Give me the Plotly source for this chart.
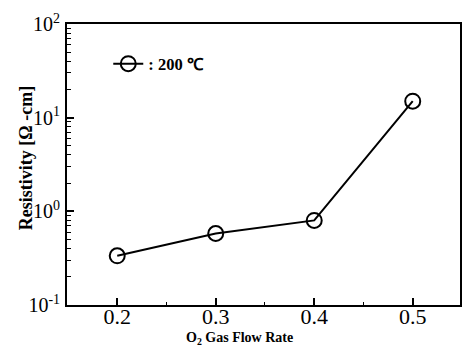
import plotly.graph_objects as go

flow_rate = [0.2, 0.3, 0.4, 0.5]
resistivity = [0.335, 0.58, 0.80, 15.0]
series_name = ": 200 ℃"

x_tickvals = [0.2, 0.3, 0.4, 0.5]
x_ticktext = ["0.2", "0.3", "0.4", "0.5"]
x_minor_vals = [0.25, 0.35, 0.45]
y_tickvals = [0.1, 1, 10, 100]
y_ticktext = ["10<sup>-1</sup>", "10<sup>0</sup>", "10<sup>1</sup>", "10<sup>2</sup>"]
y_minor_vals = [m * d for d in (0.1, 1, 10) for m in range(2, 10)]
x_title = "O<sub>2</sub> Gas Flow Rate"
y_title = "Resistivity [Ω -cm]"

fig = go.Figure()
fig.add_trace(go.Scatter(
    x=flow_rate, y=resistivity, mode="lines+markers", name=series_name,
    line=dict(color="black", width=2),
    marker=dict(symbol="circle-open", size=15, color="black", line=dict(width=2)),
))

serif = "Liberation Serif, Times New Roman, serif"
fig.update_layout(
    width=462, height=351,
    margin=dict(l=67, r=2, t=24, b=46),
    paper_bgcolor="white", plot_bgcolor="white",
    font=dict(family=serif, color="black"),
    showlegend=True,
    legend=dict(x=0.105, y=0.92, xanchor="left", yanchor="top",
                bgcolor="rgba(0,0,0,0)", font=dict(size=16.5, family=serif, weight="bold"),
                itemwidth=30),
    xaxis=dict(
        range=[0.149, 0.548], tickvals=x_tickvals, ticktext=x_ticktext,
        ticks="inside", ticklen=7, tickwidth=1.5, tickcolor="black",
        showline=True, linecolor="black", linewidth=1.8, mirror=True,
        showgrid=False, zeroline=False, automargin=False,
        tickfont=dict(size=22, family=serif), ticklabelstandoff=-9,
        minor=dict(ticks="inside", ticklen=3, tickmode="array", tickvals=x_minor_vals,
                   tickcolor="black", tickwidth=1.2, showgrid=False),
    ),
    yaxis=dict(
        type="log", range=[-1, 2], tickvals=y_tickvals, ticktext=y_ticktext,
        ticks="inside", ticklen=7, tickwidth=1.5, tickcolor="black",
        showline=True, linecolor="black", linewidth=1.8, mirror=True,
        showgrid=False, zeroline=False, automargin=False,
        tickfont=dict(size=20, family=serif), ticklabelstandoff=1,
        minor=dict(ticks="inside", ticklen=4, tickmode="array", tickvals=y_minor_vals,
                   tickcolor="black", tickwidth=1.2, showgrid=False),
    ),
    annotations=[
        dict(text=x_title, xref="paper", yref="paper", x=0.44, y=-0.12,
             xanchor="center", yanchor="middle", showarrow=False,
             font=dict(size=14, family=serif, weight="bold")),
        dict(text=y_title, xref="paper", yref="paper", x=-0.104, y=0.523,
             xanchor="center", yanchor="middle", showarrow=False, textangle=-90,
             font=dict(size=18, family=serif, weight="bold")),
    ],
)

fig.write_html("out.html", config={"displayModeBar": False},
               post_script="document.body.style.margin='0';document.body.style.padding='0';")
